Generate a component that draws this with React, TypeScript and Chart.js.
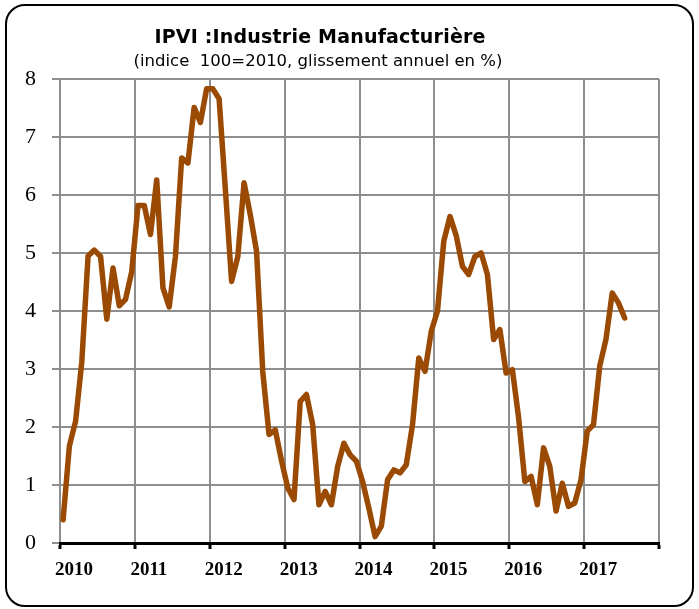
import React, { useEffect, useRef } from 'react';
import { Chart, registerables } from 'chart.js';

Chart.register(...registerables);

// Year tick labels (one per 12 months)
const yearLabels = ['2010', '2011', '2012', '2013', '2014', '2015', '2016', '2017'];

// Monthly values, Jan 2010 .. Jul 2017 (glissement annuel, %)
const values2010 = [0.40, 1.67, 2.10, 3.13, 4.95, 5.05, 4.94, 3.86, 4.74, 4.09, 4.20, 4.68];
const values2011 = [5.82, 5.82, 5.32, 6.26, 4.40, 4.07, 4.94, 6.64, 6.55, 7.51, 7.25, 7.83];
const values2012 = [7.83, 7.66, 6.10, 4.51, 4.94, 6.21, 5.66, 5.03, 2.95, 1.87, 1.95, 1.42];
const values2013 = [0.95, 0.75, 2.44, 2.56, 2.04, 0.66, 0.89, 0.66, 1.32, 1.72, 1.52, 1.41];
const values2014 = [1.06, 0.60, 0.11, 0.29, 1.09, 1.26, 1.21, 1.35, 2.04, 3.19, 2.96, 3.65];
const values2015 = [4.00, 5.20, 5.63, 5.30, 4.77, 4.63, 4.94, 5.00, 4.63, 3.51, 3.68, 2.93];
const values2016 = [2.99, 2.16, 1.06, 1.15, 0.66, 1.64, 1.32, 0.55, 1.03, 0.63, 0.69, 1.09];
const values2017 = [1.93, 2.04, 3.05, 3.51, 4.31, 4.14, 3.88];

const yTickValues = [0, 1, 2, 3, 4, 5, 6, 7, 8];

const allValues = [
  ...values2010, ...values2011, ...values2012, ...values2013,
  ...values2014, ...values2015, ...values2016, ...values2017,
];

export default function App() {
  const ref = useRef<HTMLCanvasElement | null>(null);

  useEffect(() => {
    document.body.style.margin = '0';
    const canvas = ref.current;
    if (!canvas) return;
    const points = allValues.map((v, i) => ({ x: i + 0.5, y: v }));
    const chart = new Chart(canvas, {
      type: 'line',
      data: {
        datasets: [
          {
            data: points,
            borderColor: '#9A4A03',
            borderWidth: 5.5,
            pointRadius: 0,
            tension: 0,
            borderJoinStyle: 'round',
            borderCapStyle: 'round',
            fill: false,
          },
        ],
      },
      options: {
        responsive: false,
        animation: false,
        devicePixelRatio: 1,
        layout: { padding: { top: 79, left: 0, right: 40, bottom: 16 } },
        plugins: {
          legend: { display: false },
          title: { display: false },
          tooltip: { enabled: false },
        },
        scales: {
          x: {
            type: 'linear',
            min: 0,
            max: yearLabels.length * 12,
            afterFit: (s: any) => { s.height = 50; },
            afterBuildTicks: (s: any) => {
              const t = [];
              for (let k = 0; k <= yearLabels.length; k++) t.push({ value: k * 12 });
              s.ticks = t;
            },
            ticks: {
              autoSkip: false,
              maxRotation: 0,
              minRotation: 0,
              labelOffset: 14,
              padding: 10,
              color: '#000',
              font: { family: '"Liberation Serif", "Times New Roman", serif', size: 19, weight: 'bold' },
              callback: (v: any) => {
                const idx = Math.round(Number(v) / 12);
                return yearLabels[idx] ?? '';
              },
            },
            grid: {
              color: '#8E8E8E',
              lineWidth: 2,
              tickColor: '#000',
              tickWidth: 3,
              tickLength: 6,
            },
            border: { display: true, color: '#000', width: 3 },
          },
          y: {
            min: 0,
            max: 8,
            afterFit: (s: any) => { s.width = 60; },
            afterBuildTicks: (s: any) => {
              s.ticks = yTickValues.map((v) => ({ value: v }));
            },
            ticks: {
              padding: 16,
              color: '#000',
              font: { family: '"Liberation Serif", "Times New Roman", serif', size: 22 },
              callback: (v: any) => String(v),
            },
            grid: {
              color: '#8E8E8E',
              lineWidth: 2,
              tickLength: 8,
            },
            border: { display: false },
          },
        },
      },
    });
    return () => chart.destroy();
  }, []);

  return (
    <div style={{ position: 'relative', width: 699, height: 609, background: '#fff', overflow: 'hidden' }}>
      <canvas ref={ref} width={699} height={609} style={{ position: 'absolute', left: 0, top: 0 }} />
      <div
        style={{
          position: 'absolute', left: 5, top: 4, width: 689, height: 603,
          border: '2px solid #000', borderRadius: 20, boxSizing: 'border-box', pointerEvents: 'none',
        }}
      />
      <div
        style={{
          position: 'absolute', left: 0, top: 25, width: 640, textAlign: 'center',
          fontFamily: '"DejaVu Sans", sans-serif', fontWeight: 'bold',
          fontSize: 19, lineHeight: '22px', color: '#000', letterSpacing: 0.2,
        }}
      >
        IPVI :Industrie Manufacturière
      </div>
      <div
        style={{
          position: 'absolute', left: 0, top: 51, width: 636, textAlign: 'center',
          fontFamily: '"DejaVu Sans", sans-serif',
          fontSize: 16.5, lineHeight: '20px', color: '#000', whiteSpace: 'pre',
        }}
      >
        {'(indice  100=2010, glissement annuel en %)'}
      </div>
    </div>
  );
}
